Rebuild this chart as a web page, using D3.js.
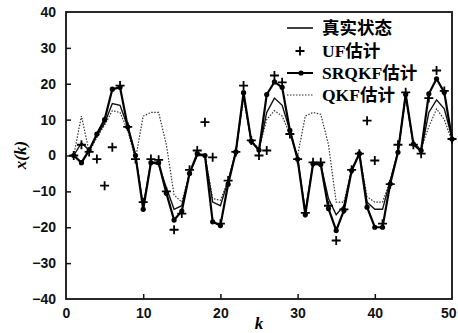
<!DOCTYPE html>
<html>
<head>
  <meta charset="utf-8">
  <title>x(k)</title>
  <style>
    body { margin: 0; background: #fff; }
    svg { display: block; }
  </style>
</head>
<body>
  <div id="chart"></div>
  <script src="https://cdn.jsdelivr.net/npm/d3@7"></script>
  <script type="text/javascript">
    // k = 1..50
    var steps = d3.range(1, 51);

    var trueState = [0, 3.5, 1.5, 5.5, 9, 14.5, 14, 8, 0, -14,
      -2, -2.5, -9, -15, -14, -5, 0, 0, -13, -14,
      -7, 1, 17, 4, 1.5, 12, 16, 14, 7, -1,
      -15.5, -2.5, -2.5, -12, -16.5, -14, -4, 0.5, -13, -15,
      -15, -7, 1, 17, 3, 1, 12, 15.5, 13, 5];

    var ufEst = [0, 3, 1, -1, -8.4, 2.3, 19.5, 8, -1, -13,
      -1, -1.2, -10, -20.7, -16.2, -4, 1.4, 9.3, -0.5, -19,
      -7, 1, 19.5, 4.2, 0, 1.4, 22.3, 20.4, 6, -1,
      -16, -1.9, -1.9, -14, -23.7, -15, -4, 0.5, 9.7, -1.4,
      -19, -8, 3, 17.6, 3, 0.5, 16, 23.7, 18, 4.6];

    var srqkfEst = [0, -2, 1.5, 6, 10, 18.5, 19, 8, 0, -15,
      -2, -2, -10.5, -18, -15.5, -5, 0.5, 0, -18.5, -19.5,
      -8, 1, 17.5, 4, 1.5, 17, 20.5, 19, 7, -1,
      -16.5, -2.3, -2.5, -14.8, -20.9, -15.3, -4.2, 0.5, -14.4, -20,
      -20, -7.9, 0.9, 17, 3.2, 1.4, 17.2, 21.4, 17.6, 4.6];

    var qkfEst = [0, 11, 1, 5, 8.5, 12.5, 12, 7, -1, 11,
      12, 12, 3, -11, -13, -5, 0, 0, -12, -12.5,
      -7, 1, 16, 4, 2, 10, 12.5, 11, 6, 0,
      11, 12, 11.5, 3, -13, -13, -4, 0.5, -11.5, -13,
      -13, -7, 1, 16, 3, 2, 8, 13, 10, 4];

    var xTicks = [0, 10, 20, 30, 40, 50];
    var yTicks = [-40, -30, -20, -10, 0, 10, 20, 30, 40];
    var legendNames = ["真实状态", "UF估计", "SRQKF估计", "QKF估计"];

    var w = 458;
    var h = 333;

    var svg = d3.select("#chart")
      .append("svg")
      .attr("width", w)
      .attr("height", h);

    var x = d3.scaleLinear().domain([0, 50]).range([66, 452]);
    var y = d3.scaleLinear().domain([-40, 40]).range([299, 12]);

    // axes with inward ticks
    var yAxis = svg.append("g")
      .attr("transform", "translate(" + x(0) + ",0)")
      .call(d3.axisLeft(y).tickValues(yTicks).tickSizeInner(-5).tickSizeOuter(0).tickPadding(10));
    var xAxis = svg.append("g")
      .attr("transform", "translate(0," + y(-40) + ")")
      .call(d3.axisBottom(x).tickValues(xTicks).tickSizeInner(-5).tickSizeOuter(0).tickPadding(9));

    [xAxis, yAxis].forEach(function(a) {
      a.select(".domain").remove();
      a.selectAll("line").attr("stroke", "#111").attr("stroke-width", 1.5);
      a.selectAll("text")
        .attr("fill", "#111")
        .style("font-family", "Liberation Sans, Arial, sans-serif")
        .style("font-weight", "bold")
        .style("font-size", "14px");
    });
    yAxis.selectAll("line").filter(function(d) { return d === 40 || d === -40; }).remove();
    xAxis.selectAll("line").filter(function(d) { return d === 0 || d === 50; }).remove();
    // keep the last label inside the picture
    xAxis.selectAll("text").filter(function(d) { return d === 50; })
      .attr("text-anchor", "end").attr("dx", "4");

    // frame
    svg.append("rect")
      .attr("x", x(0))
      .attr("y", y(40))
      .attr("width", x(50) - x(0))
      .attr("height", y(-40) - y(40))
      .attr("fill", "none")
      .attr("stroke", "#111")
      .attr("stroke-width", 1.8);

    var line = function(vals) {
      return d3.line()
        .x(function(d, i) { return x(steps[i]); })
        .y(function(d) { return y(d); })(vals);
    };

    // QKF (dotted)
    svg.append("path")
      .attr("d", line(qkfEst))
      .attr("fill", "none")
      .attr("stroke", "#333")
      .attr("stroke-width", 1.2)
      .attr("stroke-dasharray", "1.5,1.5");

    // true state
    svg.append("path")
      .attr("d", line(trueState))
      .attr("fill", "none")
      .attr("stroke", "#111")
      .attr("stroke-width", 1.4);

    // SRQKF
    svg.append("path")
      .attr("d", line(srqkfEst))
      .attr("fill", "none")
      .attr("stroke", "#000")
      .attr("stroke-width", 2.2);
    svg.selectAll("circle.sr")
      .data(srqkfEst)
      .enter()
      .append("circle")
      .attr("class", "sr")
      .attr("cx", function(d, i) { return x(steps[i]); })
      .attr("cy", function(d) { return y(d); })
      .attr("r", 2.6)
      .attr("fill", "#000");

    // UF markers
    svg.selectAll("path.uf")
      .data(ufEst)
      .enter()
      .append("path")
      .attr("class", "uf")
      .attr("d", "M-4.5,0H4.5M0,-4.5V4.5")
      .attr("transform", function(d, i) { return "translate(" + x(steps[i]) + "," + y(d) + ")"; })
      .attr("stroke", "#000")
      .attr("stroke-width", 1.8);

    // legend
    var lg = svg.append("g");
    var rowsY = [28, 51, 73, 95];
    lg.selectAll("text")
      .data(legendNames)
      .enter()
      .append("text")
      .text(function(d) { return d; })
      .attr("x", 322)
      .attr("y", function(d, i) { return rowsY[i] + 6; })
      .style("font-family", "Liberation Serif, Noto Sans CJK SC, serif")
      .style("font-weight", "bold")
      .style("font-size", "17.5px")
      .attr("fill", "#000");

    lg.append("line")
      .attr("x1", 287).attr("x2", 313).attr("y1", rowsY[0]).attr("y2", rowsY[0])
      .attr("stroke", "#000").attr("stroke-width", 1.5);
    lg.append("path")
      .attr("d", "M-4.5,0H4.5M0,-4.5V4.5")
      .attr("transform", "translate(300," + rowsY[1] + ")")
      .attr("stroke", "#000").attr("stroke-width", 1.8);
    lg.append("line")
      .attr("x1", 287).attr("x2", 313).attr("y1", rowsY[2]).attr("y2", rowsY[2])
      .attr("stroke", "#000").attr("stroke-width", 2);
    lg.append("circle")
      .attr("cx", 301).attr("cy", rowsY[2]).attr("r", 2.6).attr("fill", "#000");
    lg.append("line")
      .attr("x1", 287).attr("x2", 313).attr("y1", rowsY[3]).attr("y2", rowsY[3])
      .attr("stroke", "#333").attr("stroke-width", 1.2).attr("stroke-dasharray", "1.5,1.5");

    // axis titles
    svg.append("text")
      .attr("transform", "translate(26,155) rotate(-90)")
      .attr("text-anchor", "middle")
      .style("font-family", "Liberation Serif, serif")
      .style("font-weight", "bold")
      .style("font-style", "italic")
      .style("font-size", "17px")
      .text("x(k)");
    svg.append("text")
      .attr("x", x(25))
      .attr("y", 329)
      .attr("text-anchor", "middle")
      .style("font-family", "Liberation Serif, serif")
      .style("font-weight", "bold")
      .style("font-style", "italic")
      .style("font-size", "17px")
      .text("k");
  </script>
</body>
</html>
